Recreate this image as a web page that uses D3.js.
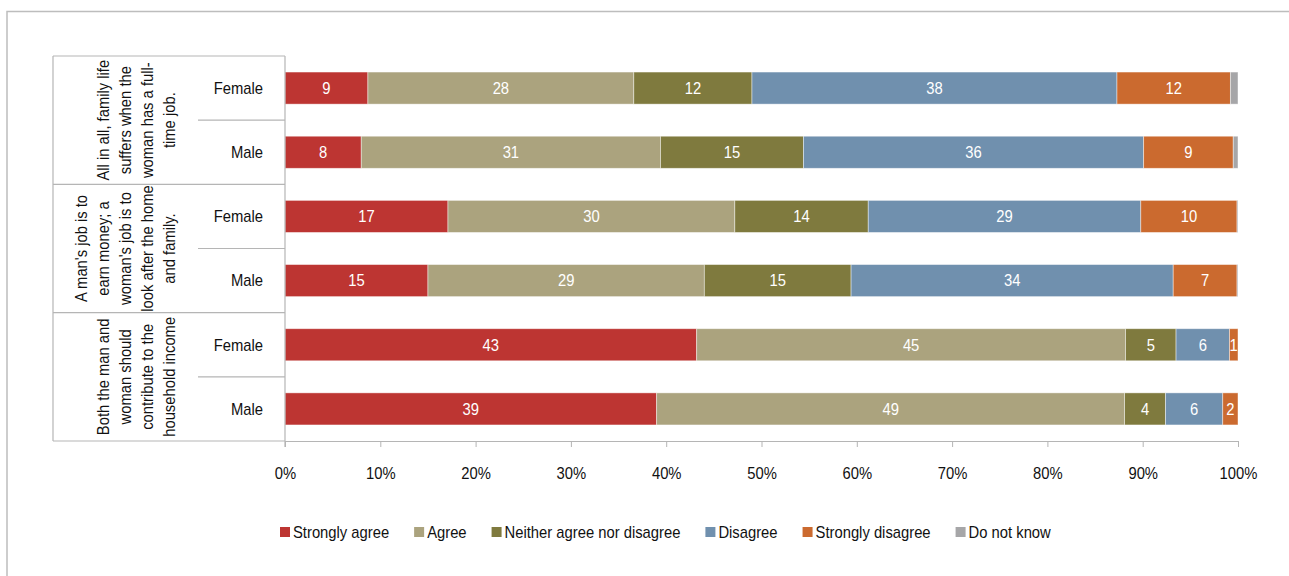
<!DOCTYPE html>
<html lang="en">
<head>
<meta charset="utf-8">
<title>Attitudes to gender roles, stacked bars</title>
<script src="https://cdn.jsdelivr.net/npm/d3@7"></script>
<style>
  body { margin: 0; background: #fff; }
  svg text { font-family: "Liberation Sans", Arial, sans-serif; font-size: 17px; fill: #111; }
  .Axis path, .Axis line { stroke: #b5b5b5; }
  .Axis text { font-size: 17px; fill: #111; }
  .val { fill: #fff; }
</style>
</head>
<body>
<script>
// --- data ---
var statements = [
  ["All in all, family life", "suffers when the", "woman has a full-", "time job."],
  ["A man's job is to", "earn money; a", "woman's job is to", "look after the home", "and family."],
  ["Both the man and", "woman should", "contribute to the", "household income"]
];
var sexes = ["Female", "Male"];
var answers = ["Strongly agree", "Agree", "Neither agree nor disagree", "Disagree", "Strongly disagree", "Do not know"];
var colors = ["#bd3532", "#aba37e", "#7f7a3e", "#7090ae", "#cb6a2f", "#a6a6a8"];

// percentages per row, in answer order (rows: statement x sex)
var stronglyAgree    = [8.7, 8.0, 17.1, 15.0, 43.2, 39.0];
var agree            = [27.9, 31.4, 30.1, 29.0, 45.0, 49.1];
var neither          = [12.4, 15.0, 14.0, 15.4, 5.3, 4.3];
var disagree         = [38.3, 35.7, 28.6, 33.8, 5.6, 6.0];
var stronglyDisagree = [11.9, 9.4, 10.1, 6.7, 0.9, 1.6];
var doNotKnow        = [0.8, 0.5, 0.1, 0.1, 0.0, 0.0];
var xTicks = [0, 10, 20, 30, 40, 50, 60, 70, 80, 90, 100];

var series = [stronglyAgree, agree, neither, disagree, stronglyDisagree, doNotKnow];
var rows = [];
statements.forEach(function(s, i) {
  sexes.forEach(function(sex, j) {
    var k = i * 2 + j;
    var row = { id: k, group: i, sex: sex };
    answers.forEach(function(a, n) { row[a] = series[n][k]; });
    rows.push(row);
  });
});

// --- layout ---
var w = 1289, h = 576;
var plotL = 285, plotR = 1238, plotT = 56, plotB = 441;
var narrow = 0.87;   // horizontal squeeze to mimic a narrow face

var svg = d3.select("body").append("svg").attr("width", w).attr("height", h);

// outer frame
svg.append("rect")
   .attr("x", 7).attr("y", 11.5).attr("width", w + 20).attr("height", h + 20)
   .attr("fill", "none").attr("stroke", "#bdbdbd").attr("stroke-width", 1.5);

var xScale = d3.scaleLinear().domain([0, 100]).range([plotL, plotR]);
var yScale = d3.scaleBand().domain(rows.map(function(d) { return d.id; }))
               .range([plotT, plotB]).paddingInner(0.5).paddingOuter(0.25);
var groupScale = d3.scaleBand().domain(d3.range(statements.length)).range([plotT, plotB]);

var stacked = d3.stack().keys(answers)(rows);

// bars
var layers = svg.selectAll("g.layer")
   .data(stacked)
   .enter()
   .append("g")
   .attr("class", "layer")
   .attr("fill", function(d, i) { return colors[i]; });

layers.selectAll("rect")
   .data(function(d) { return d; })
   .enter()
   .append("rect")
   .attr("x", function(d) { return xScale(d[0]); })
   .attr("y", function(d) { return yScale(d.data.id); })
   .attr("width", function(d) { return xScale(d[1]) - xScale(d[0]); })
   .attr("height", yScale.bandwidth())
   .attr("stroke", "rgba(255,255,255,0.55)")
   .attr("stroke-width", 0.8);

// value labels (not for "Do not know")
layers.filter(function(d, i) { return i < 5; })
   .selectAll("text")
   .data(function(d) { return d; })
   .enter()
   .append("text")
   .attr("class", "val")
   .attr("transform", function(d) {
     var x = (xScale(d[0]) + xScale(d[1])) / 2;
     var y = yScale(d.data.id) + yScale.bandwidth() / 2;
     return "translate(" + x + "," + y + ") scale(" + narrow + ",1)";
   })
   .attr("text-anchor", "middle")
   .attr("dominant-baseline", "central")
   .text(function(d) { return Math.round(d[1] - d[0]); });

// x axis
var xAxis = d3.axisBottom(xScale).tickValues(xTicks)
              .tickFormat(function(d) { return d + "%"; })
              .tickSizeOuter(6).tickSize(6).tickPadding(20);
var gx = svg.append("g").classed("Axis", true)
   .attr("transform", "translate(0," + plotB + ")")
   .call(xAxis);
gx.selectAll("text").attr("transform", "scale(" + narrow + ",1)");

// left table (category cells)
var grid = svg.append("g").attr("stroke", "#b5b5b5").attr("stroke-width", 1.2);
grid.append("line").attr("x1", plotL).attr("x2", plotL).attr("y1", plotT).attr("y2", plotB + 6);
grid.append("line").attr("x1", 53).attr("x2", 53).attr("y1", plotT).attr("y2", plotB);
d3.range(statements.length + 1).forEach(function(i) {
  var y = i < statements.length ? groupScale(i) : plotB;
  grid.append("line").attr("x1", 53).attr("x2", plotL).attr("y1", y).attr("y2", y);
});
d3.range(statements.length).forEach(function(i) {
  var y = groupScale(i) + groupScale.bandwidth() / 2;
  grid.append("line").attr("x1", 198).attr("x2", plotL).attr("y1", y).attr("y2", y);
});

// sex labels
svg.selectAll("text.sex")
   .data(rows)
   .enter()
   .append("text")
   .attr("class", "sex")
   .attr("transform", function(d) {
     return "translate(263," + (yScale(d.id) + yScale.bandwidth() / 2) + ") scale(" + narrow + ",1)";
   })
   .attr("text-anchor", "end")
   .attr("dominant-baseline", "central")
   .text(function(d) { return d.sex; });

// statement labels, rotated, lines stacked so the last line sits near x = 175
var lineGap = 22;
statements.forEach(function(lines, i) {
  var cy = groupScale(i) + groupScale.bandwidth() / 2;
  var n = lines.length;
  lines.forEach(function(line, j) {
    var x = 175 - (n - 1 - j) * lineGap;
    svg.append("text")
       .attr("transform", "translate(" + x + "," + cy + ") rotate(-90) scale(" + narrow + ",1)")
       .attr("text-anchor", "middle")
       .text(line);
  });
});

// legend
var legend = svg.append("g").attr("transform", "translate(280,532)");
var lx = 0;
answers.forEach(function(a, i) {
  var item = legend.append("g").attr("transform", "translate(" + lx + ",0)");
  item.append("rect").attr("x", 0).attr("y", -5).attr("width", 10).attr("height", 10).attr("fill", colors[i]);
  var t = item.append("text")
     .attr("transform", "translate(13,0) scale(" + narrow + ",1)")
     .attr("dominant-baseline", "central").text(a);
  lx += 13 + t.node().getComputedTextLength() * narrow + 25;
});
</script>
</body>
</html>
